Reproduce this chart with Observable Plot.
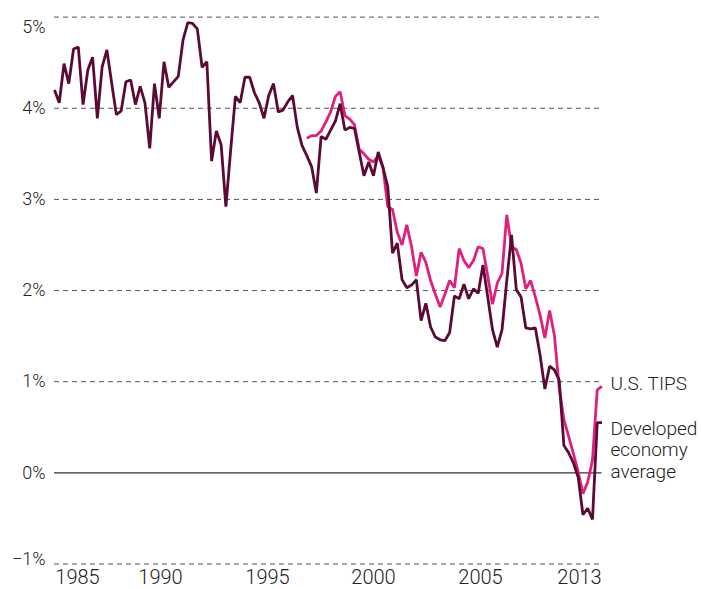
<!DOCTYPE html>
<html>
<head>
<meta charset="utf-8">
<script src="https://cdn.jsdelivr.net/npm/d3@7"></script>
<script src="https://cdn.jsdelivr.net/npm/@observablehq/plot@0.6"></script>
<style>
  html, body { margin: 0; padding: 0; background: #fff; }
  #chart { width: 701px; height: 589px; }
</style>
</head>
<body>
<div id="chart"></div>
<script>
// Developed economy average real yield (%), one value per period (index 0..115)
const developed = [4.20, 4.06, 4.49, 4.27, 4.65, 4.67, 4.04, 4.42, 4.56, 3.89,
  4.45, 4.64, 4.28, 3.93, 3.97, 4.29, 4.31, 4.04, 4.24, 4.06,
  3.56, 4.27, 3.89, 4.51, 4.23, 4.29, 4.35, 4.75, 4.94, 4.93,
  4.87, 4.45, 4.51, 3.42, 3.75, 3.60, 2.92, 3.54, 4.13, 4.06,
  4.34, 4.34, 4.17, 4.06, 3.89, 4.14, 4.27, 3.96, 3.98, 4.07,
  4.14, 3.79, 3.59, 3.48, 3.36, 3.07, 3.69, 3.66, 3.76, 3.86,
  4.05, 3.76, 3.79, 3.78, 3.52, 3.26, 3.41, 3.26, 3.52, 3.35,
  3.14, 2.41, 2.52, 2.12, 2.03, 2.06, 2.12, 1.67, 1.86, 1.60,
  1.49, 1.46, 1.45, 1.54, 1.94, 1.91, 2.07, 1.91, 2.02, 1.97,
  2.28, 1.93, 1.57, 1.38, 1.57, 2.11, 2.61, 2.01, 1.93, 1.59,
  1.58, 1.59, 1.29, 0.92, 1.17, 1.13, 1.02, 0.30, 0.22, 0.11,
  -0.05, -0.46, -0.39, -0.51, 0.55, 0.55];

// U.S. TIPS real yield (%), starting at period index 53
const tipsStart = 53;
const tips = [3.67, 3.70, 3.70, 3.75, 3.85, 3.96, 4.13,
  4.18, 3.92, 3.88, 3.82, 3.55, 3.50, 3.44, 3.41, 3.48, 3.35,
  2.92, 2.89, 2.64, 2.50, 2.72, 2.48, 2.16, 2.42, 2.31, 2.11,
  1.96, 1.82, 1.96, 2.11, 2.03, 2.46, 2.33, 2.25, 2.33, 2.48,
  2.46, 2.16, 1.85, 2.08, 2.19, 2.83, 2.48, 2.45, 2.30, 2.02,
  2.11, 1.93, 1.73, 1.48, 1.78, 1.51, 0.94, 0.58, 0.40, 0.21,
  0.01, -0.23, -0.10, 0.14, 0.91, 0.95];

// x-axis tick labels and the period positions where they sit
const xTickLabels = ["1985", "1990", "1995", "2000", "2005", "2013"];
const xTickPos = [4.83, 22.26, 44.74, 67.0, 89.48, 110.27];

// y-axis ticks (%)
const yTicks = [-1, 0, 1, 2, 3, 4, 5];

const seriesNames = ["U.S. TIPS", "Developed\neconomy\naverage"];
const colors = { dev: "#5a0a35", tips: "#e0207f" };

const devData = developed.map((v, i) => ({ i, v }));
const tipsData = tips.map((v, k) => ({ i: tipsStart + k, v }));

const labelFor = new Map(xTickPos.map((p, k) => [p, xTickLabels[k]]));
const fmtPct = d => (d < 0 ? "\u2212" : "") + Math.abs(d) + "%";
const textStyle = { fontSize: 18, fill: "#222", fontWeight: 300 };

const chart = Plot.plot({
  width: 701,
  height: 589,
  marginLeft: 54,
  marginRight: 99.5,
  marginTop: 16.6,
  marginBottom: 25.5,
  style: { fontFamily: "Roboto, 'Liberation Sans', sans-serif", fontSize: "18px", color: "#222", background: "#fff" },
  x: { type: "linear", domain: [0, developed.length - 1], axis: null },
  y: { domain: [-1, 5], axis: null },
  marks: [
    Plot.ruleY(yTicks.filter(d => d !== 0), { stroke: "#555", strokeWidth: 1, strokeDasharray: "5,4" }),
    Plot.ruleY([0], { stroke: "#333", strokeWidth: 1.2 }),
    Plot.axisY(yTicks.filter(d => d > -1 && d < 5), { ...textStyle, label: null, tickSize: 0, tickPadding: 9, tickFormat: fmtPct }),
    Plot.axisY([5], { ...textStyle, label: null, tickSize: 0, tickPadding: 9, tickFormat: fmtPct, dy: 10.5 }),
    Plot.axisY([-1], { ...textStyle, label: null, tickSize: 0, tickPadding: 9, tickFormat: fmtPct, dy: -5 }),
    Plot.axisX(xTickPos, { ...textStyle, fontSize: 20, label: null, tickSize: 0, tickPadding: 6, tickFormat: d => labelFor.get(d) }),
    Plot.line(tipsData, { x: "i", y: "v", stroke: colors.tips, strokeWidth: 2.8, strokeLinejoin: "miter", strokeLinecap: "butt" }),
    Plot.line(devData, { x: "i", y: "v", stroke: colors.dev, strokeWidth: 2.8, strokeLinejoin: "miter", strokeLinecap: "butt" }),
    Plot.text([tipsData[tipsData.length - 1]], { ...textStyle, fontSize: 19, x: "i", y: "v", text: () => seriesNames[0], textAnchor: "start", dx: 8.5, dy: -2 }),
    Plot.text([devData[devData.length - 1]], { ...textStyle, fontSize: 19, x: "i", y: "v", text: () => seriesNames[1], textAnchor: "start", lineAnchor: "top", lineHeight: 1.13, dx: 8.5, dy: -3 })
  ]
});
document.getElementById("chart").appendChild(chart);
</script>
</body>
</html>
